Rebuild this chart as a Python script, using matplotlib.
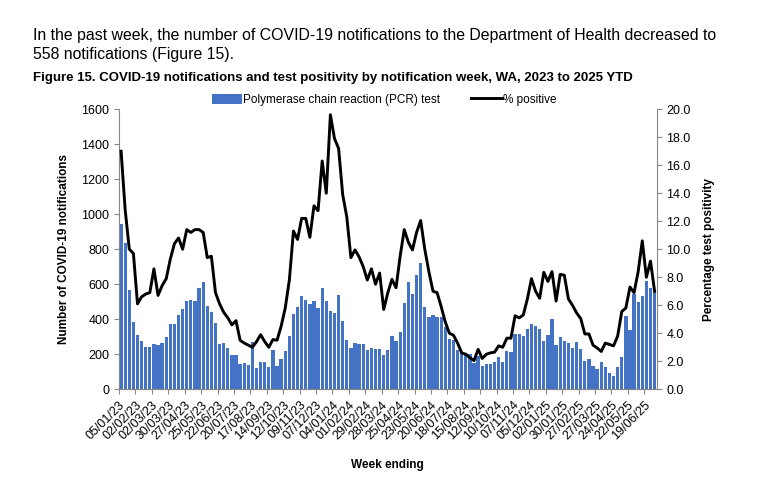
import matplotlib
matplotlib.use("Agg")
import matplotlib.pyplot as plt
import matplotlib.transforms as mtransforms
import numpy as np

plt.rcParams['font.family'] = ['Liberation Sans', 'DejaVu Sans']

# weekly PCR notifications, week ending 05/01/23 .. 03/07/25
pcr = [945, 834, 568, 387, 310, 273, 240, 244, 258, 255,
       265, 297, 371, 371, 423, 461, 502, 510, 502, 577,
       611, 478, 440, 377, 259, 264, 238, 198, 198, 143,
       151, 139, 268, 121, 154, 157, 129, 225, 131, 171,
       218, 304, 428, 470, 533, 510, 487, 507, 464, 576,
       503, 445, 435, 537, 389, 280, 234, 263, 261, 257,
       225, 237, 229, 231, 194, 225, 303, 274, 326, 495,
       610, 543, 653, 720, 469, 415, 423, 414, 411, 353,
       285, 282, 227, 208, 204, 203, 150, 190, 133, 143,
       143, 158, 182, 158, 221, 214, 314, 314, 305, 346,
       373, 364, 346, 278, 308, 400, 253, 300, 276, 263,
       234, 268, 230, 160, 175, 131, 118, 153, 128, 95,
       77, 130, 182, 420, 341, 543, 498, 530, 619, 581,
       558]

# % positive
pct_pos = [17.0, 12.8, 10.0, 9.7, 6.1, 6.6, 6.8, 6.9, 8.6, 6.7,
           7.4, 7.9, 9.3, 10.4, 10.8, 10.0, 11.4, 11.2, 11.4, 11.4,
           11.2, 9.4, 9.5, 6.9, 6.1, 5.5, 5.1, 4.6, 4.9, 3.5,
           3.3, 3.15, 3.0, 3.4, 3.9, 3.4, 3.0, 3.55, 3.5, 4.5,
           5.8, 7.8, 11.3, 10.7, 12.2, 12.2, 10.85, 13.1, 12.75, 16.3,
           14.0, 19.6, 17.9, 17.2, 13.9, 12.3, 9.4, 9.95, 9.45, 8.75,
           7.8, 8.6, 7.5, 8.3, 5.7, 6.9, 7.85, 7.25, 9.5, 11.4,
           10.5, 9.95, 11.2, 12.05, 10.0, 8.4, 7.0, 6.9, 5.9, 4.8,
           4.0, 3.85, 3.3, 2.6, 2.5, 2.25, 2.05, 2.85, 2.2, 2.5,
           2.6, 2.65, 3.1, 3.0, 3.65, 3.65, 5.25, 5.1, 5.3, 6.45,
           7.9, 7.0, 6.5, 8.35, 7.7, 8.4, 6.3, 8.2, 8.15, 6.45,
           6.0, 5.45, 5.05, 3.95, 3.95, 3.15, 2.95, 2.7, 3.3, 3.2,
           3.1, 3.8, 5.55, 5.8, 7.3, 6.9, 8.4, 10.6, 8.0, 9.15,
           7.0]

week_labels = ['05/01/23', '02/02/23', '02/03/23', '30/03/23', '27/04/23', '25/05/23',
               '22/06/23', '20/07/23', '17/08/23', '14/09/23', '12/10/23', '09/11/23',
               '07/12/23', '04/01/24', '01/02/24', '29/02/24', '28/03/24', '25/04/24',
               '23/05/24', '20/06/24', '18/07/24', '15/08/24', '12/09/24', '10/10/24',
               '07/11/24', '05/12/24', '02/01/25', '30/01/25', '27/02/25', '27/03/25',
               '24/04/25', '22/05/25', '19/06/25']

x = np.arange(len(pcr))
grey = '#868686'

fig = plt.figure(figsize=(7.68, 4.94), dpi=100)
ax = fig.add_axes([0.155, 0.212, 0.700, 0.567])
ax2 = ax.twinx()

bars = ax.bar(x, pcr, width=0.8, color='#4472C4', label='Polymerase chain reaction (PCR) test', zorder=2)
line, = ax2.plot(x, pct_pos, color='black', lw=2.1, label='% positive', zorder=3)

ax.set_xlim(-0.5, len(pcr) - 0.5)
ax.set_ylim(0, 1600)
ax.set_yticks(range(0, 1601, 200))
ax2.set_ylim(0, 20)
ax2.set_yticks(np.arange(0, 20.1, 2))
ax2.set_yticklabels(['%.1f' % v for v in np.arange(0, 20.1, 2)])

tick_pos = np.arange(0, len(pcr), 4) - 0.5
ax.set_xticks(tick_pos)
ax.set_xticklabels(week_labels, rotation=45, ha='right', va='top', rotation_mode='anchor', fontsize=9)
offset = mtransforms.ScaledTranslation(9 / 100, -2 / 100, fig.dpi_scale_trans)
for lab in ax.get_xticklabels():
    lab.set_transform(lab.get_transform() + offset)

for a in (ax, ax2):
    a.spines['top'].set_visible(False)
    for s in ('left', 'right', 'bottom'):
        a.spines[s].set_color(grey)
    a.tick_params(colors=grey, labelcolor='black', length=3.5, labelsize=9)
ax.spines['right'].set_visible(False)
ax2.spines['left'].set_visible(False)
ax2.spines['bottom'].set_visible(False)

ax.set_ylabel('Number of COVID-19 notifications', fontsize=8.5, fontweight='bold', labelpad=8)
ax2.set_ylabel('Percentage test positivity', fontsize=8.5, fontweight='bold', labelpad=9)
ax.set_xlabel('Week ending', fontsize=8.5, fontweight='bold', labelpad=12)

fig.text(0.043, 0.929, 'In the past week, the number of COVID-19 notifications to the Department of Health decreased to',
         fontsize=11.45, va='center')
fig.text(0.043, 0.889, '558 notifications (Figure 15).', fontsize=11.45, va='center')
fig.text(0.043, 0.842, 'Figure 15. COVID-19 notifications and test positivity by notification week, WA, 2023 to 2025 YTD',
         fontsize=9.5, fontweight='bold', va='center')

fig.legend(handles=[bars, line], loc='center', bbox_to_anchor=(0.500, 0.798), ncol=2, frameon=False,
           fontsize=8.5, handlelength=2.6, handleheight=0.9, columnspacing=2.6, handletextpad=0.1)

fig.savefig('out.png', dpi=100)
